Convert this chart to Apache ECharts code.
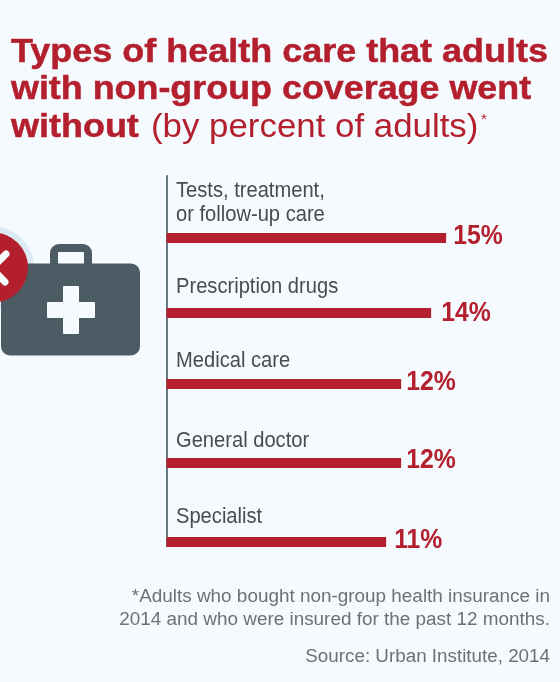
<!DOCTYPE html>
<html>
<head>
<meta charset="utf-8">
<style>html,body{margin:0;padding:0;background:#f5faff}#c{width:560px;height:682px}</style>
<script src="https://cdn.jsdelivr.net/npm/echarts@6/dist/echarts.min.js"></script>
</head>
<body>
<div id="c"></div>
<script>
// Share of adults going without each type of care
const careTypes = ['Tests, treatment,\nor follow-up care', 'Prescription drugs', 'Medical care', 'General doctor', 'Specialist'];
const percentWithout = [15, 14, 12, 12, 11];
const valueAxisMin = -3.64;
const valueAxisMax = 22.59;

// Layout of each row relative to its category band (pixels)
const barDrop = [25, 26, 23, 28, 33];
const nameRise = [35, 26, 23, 22, 25];
const valueGap = [7, 10, 5, 5, 8];
const valueRise = [2, 0, 2, 3, 1.5];
const barThickness = 10;

const RED = '#b41f2d';
const SLATE = '#4d5b65';
const PAPER = '#f5faff';
const SANS = '"Liberation Sans",Arial,sans-serif';
const NOTE = '#6b7177';

function renderRow(params, api) {
  const i = params.dataIndex;
  const start = api.coord([valueAxisMin, i]);
  const end = api.coord([api.value(0), i]);
  const y = end[1] + barDrop[i];
  return {
    type: 'group',
    children: [
      { type: 'rect', shape: { x: start[0], y: y - barThickness / 2, width: end[0] - start[0], height: barThickness }, style: { fill: RED } },
      { type: 'text', x: 176, y: y - nameRise[i], scaleX: 0.915,
        style: { text: careTypes[i], font: '22px ' + SANS, fill: '#474c52', lineHeight: 24, verticalAlign: 'middle', align: 'left' } },
      { type: 'text', x: end[0] + valueGap[i], y: y - valueRise[i], scaleX: 0.885,
        style: { text: api.value(0) + '%', font: 'bold 28px ' + SANS, fill: RED, verticalAlign: 'middle', align: 'left' } }
    ]
  };
}

// Headline runs are placed one by one so each can be fitted to its measure
function headline(text, x, y, scaleX, weight) {
  return { type: 'text', x, y, scaleX, z: 10, style: {
    text, font: weight + ' 33px ' + SANS, fill: RED, verticalAlign: 'middle', align: 'left',
    stroke: weight === 'bold' ? RED : null, lineWidth: weight === 'bold' ? 0.5 : 0 } };
}

function note(text, y, size, scaleX) {
  return { type: 'text', x: 550, y, scaleX, style: { text, font: size + 'px ' + SANS, fill: NOTE, verticalAlign: 'middle', align: 'right' } };
}

const chart = echarts.init(document.getElementById('c'), null, { renderer: 'canvas' });
chart.setOption({
  backgroundColor: PAPER,
  animation: false,
  grid: { left: 166.5, top: 176, width: 393.5, height: 370 },
  xAxis: { type: 'value', min: valueAxisMin, max: valueAxisMax, show: false },
  yAxis: {
    type: 'category', inverse: true, data: careTypes,
    axisLine: { show: true, onZero: false, lineStyle: { color: '#68767f', width: 2 } },
    axisTick: { show: false }, axisLabel: { show: false }, splitLine: { show: false }
  },
  series: [{
    type: 'custom', renderItem: renderRow, clip: false,
    data: percentWithout.map((v, i) => [v, i]),
    encode: { x: 0, y: 1 }
  }],
  graphic: [
    headline('Types of health care that adults', 11, 52.5, 1.09, 'bold'),
    headline('with non-group coverage went', 11, 90, 1.087, 'bold'),
    headline('without', 11, 127.5, 1.09, 'bold'),
    headline('(by percent of adults)', 151, 127.5, 1.056, 'normal'),
    { type: 'text', x: 481, y: 120, z: 10, style: { text: '*', font: '15px ' + SANS, fill: RED, verticalAlign: 'middle', align: 'left' } },
    note('*Adults who bought non-group health insurance in', 597, 18, 1.05),
    note('2014 and who were insured for the past 12 months.', 620, 18, 1.05),
    note('Source: Urban Institute, 2014', 657, 18, 1.045),
    // Medical bag with a crossed-out badge
    { type: 'group', children: [
      { type: 'circle', shape: { cx: -7, cy: 267.5, r: 41 }, style: { fill: '#dcebf3' } },
      { type: 'rect', shape: { x: 54, y: 248, width: 34, height: 24, r: 5 }, style: { fill: 'none', stroke: SLATE, lineWidth: 8 } },
      { type: 'rect', shape: { x: 1, y: 263.5, width: 139, height: 92, r: 9 }, style: { fill: SLATE } },
      { type: 'rect', shape: { x: 63, y: 286, width: 16, height: 48, r: 1 }, style: { fill: PAPER } },
      { type: 'rect', shape: { x: 47, y: 302, width: 48, height: 16, r: 1 }, style: { fill: PAPER } },
      { type: 'circle', shape: { cx: -7, cy: 267.5, r: 35 }, style: { fill: RED } },
      { type: 'line', shape: { x1: 6, y1: 254, x2: -20, y2: 280 }, style: { stroke: PAPER, lineWidth: 7, lineCap: 'round' } },
      { type: 'line', shape: { x1: 5, y1: 282, x2: -20, y2: 256 }, style: { stroke: PAPER, lineWidth: 7, lineCap: 'round' } }
    ] }
  ]
});
</script>
</body>
</html>
